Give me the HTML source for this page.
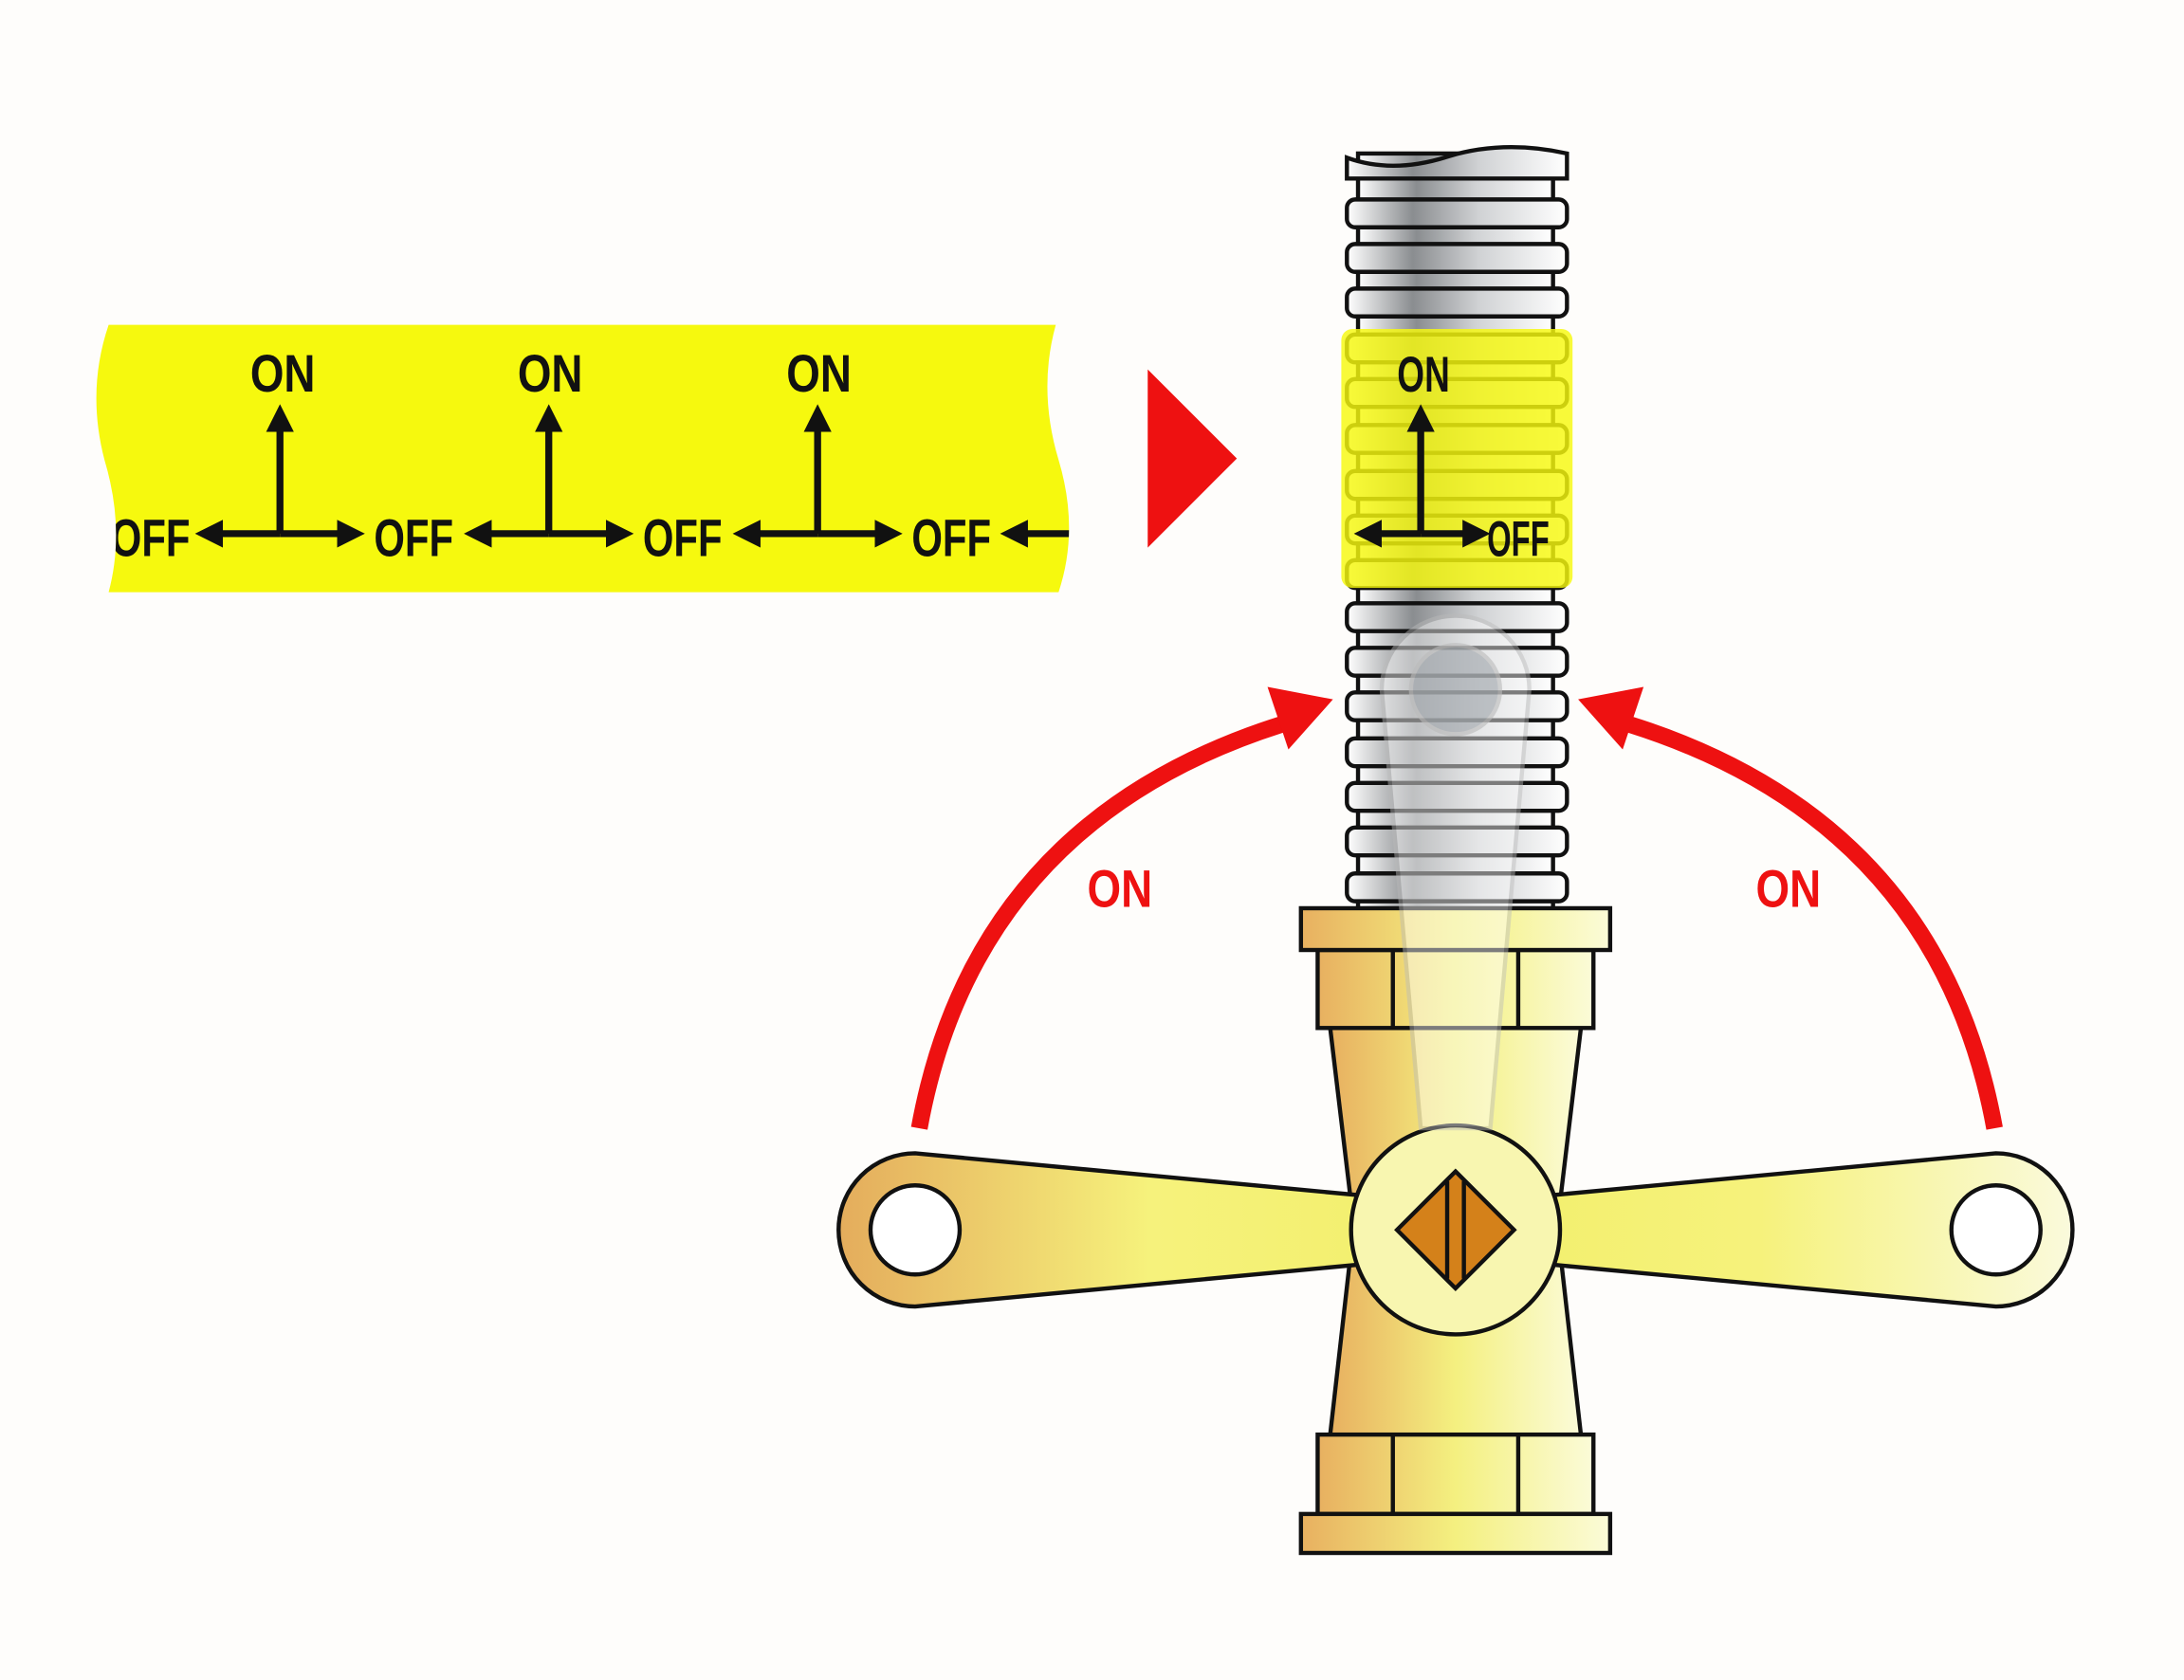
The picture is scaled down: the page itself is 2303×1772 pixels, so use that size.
<!DOCTYPE html>
<html><head><meta charset="utf-8"><style>
html,body{margin:0;padding:0;background:#fefdfb;}
svg{display:block;}
text{font-family:"Liberation Sans",sans-serif;font-weight:bold;}
</style></head><body>
<svg width="2303" height="1772" viewBox="0 0 1568 1206" xmlns="http://www.w3.org/2000/svg">
<defs>
<linearGradient id="g1" x1="0" x2="1"><stop offset="0" stop-color="#e8b060"/><stop offset="0.5" stop-color="#f4f080"/><stop offset="1" stop-color="#fbfbd8"/></linearGradient>
<linearGradient id="g2" x1="0" x2="1"><stop offset="0" stop-color="#fff"/><stop offset="0.3" stop-color="#8a8d90"/><stop offset="0.6" stop-color="#d0d2d4"/><stop offset="1" stop-color="#fff"/></linearGradient>
<linearGradient id="g3" x1="0" x2="1"><stop offset="0" stop-color="#e4ac5c"/><stop offset="0.6" stop-color="#f6f27c"/><stop offset="1" stop-color="#f3f070"/></linearGradient>
<linearGradient id="g4" x1="1" x2="0"><stop offset="0" stop-color="#fafadc"/><stop offset="0.6" stop-color="#f6f27c"/><stop offset="1" stop-color="#f3f070"/></linearGradient>
<marker id="ah" viewBox="0 0 10 10" refX="5" refY="5" markerWidth="4" markerHeight="4" orient="auto"><path d="M0,0L10,5L0,10z" fill="#111"/></marker>
<clipPath id="tc"><path d="M78,233 L758,233 Q745,280 760,330 Q775,380 760,425 L78,425 Q90,380 75,330 Q62,280 78,233Z"/></clipPath>
</defs>
<!-- tape -->
<path d="M78,233 L758,233 Q745,280 760,330 Q775,380 760,425 L78,425 Q90,380 75,330 Q62,280 78,233Z" fill="#f6f90e"/>
<g clip-path="url(#tc)">
<g fill="#111" font-size="38" text-anchor="middle">
<text transform="translate(203,281) scale(0.82,1)">ON</text>
<text transform="translate(395,281) scale(0.82,1)">ON</text>
<text transform="translate(588,281) scale(0.82,1)">ON</text>
<text transform="translate(108,399) scale(0.75,1)">OFF</text>
<text transform="translate(297,399) scale(0.75,1)">OFF</text>
<text transform="translate(490,399) scale(0.75,1)">OFF</text>
<text transform="translate(683,399) scale(0.75,1)">OFF</text>
</g>
<g stroke="#111" stroke-width="5" fill="none">
<path d="M201,383V300" marker-end="url(#ah)"/><path d="M201,383H150" marker-end="url(#ah)"/><path d="M201,383H252" marker-end="url(#ah)"/>
<path d="M394,383V300" marker-end="url(#ah)"/><path d="M394,383H343" marker-end="url(#ah)"/><path d="M394,383H445" marker-end="url(#ah)"/>
<path d="M587,383V300" marker-end="url(#ah)"/><path d="M587,383H536" marker-end="url(#ah)"/><path d="M587,383H638" marker-end="url(#ah)"/>
<path d="M770,383H728" marker-end="url(#ah)"/>
</g>
</g>
<polygon points="824,265 888,329 824,393" fill="#ee1111"/>
<!-- pipe -->
<rect x="975" y="110" width="140" height="545" fill="url(#g2)" stroke="#111" stroke-width="3"/>
<path d="M967,113 Q1000,125 1040,112 Q1080,100 1125,110 L1125,128 L967,128Z" fill="url(#g2)" stroke="#111" stroke-width="3"/>
<g fill="url(#g2)" stroke="#111" stroke-width="3">
<rect x="967" y="143" width="158" height="20" rx="6"/><rect x="967" y="175" width="158" height="20" rx="6"/>
<rect x="967" y="207" width="158" height="20" rx="6"/><rect x="967" y="240" width="158" height="20" rx="6"/>
<rect x="967" y="272" width="158" height="20" rx="6"/><rect x="967" y="305" width="158" height="20" rx="6"/>
<rect x="967" y="338" width="158" height="20" rx="6"/><rect x="967" y="370" width="158" height="20" rx="6"/>
<rect x="967" y="402" width="158" height="20" rx="6"/><rect x="967" y="433" width="158" height="20" rx="6"/>
<rect x="967" y="465" width="158" height="20" rx="6"/><rect x="967" y="497" width="158" height="20" rx="6"/>
<rect x="967" y="530" width="158" height="20" rx="6"/><rect x="967" y="562" width="158" height="20" rx="6"/>
<rect x="967" y="594" width="158" height="20" rx="6"/><rect x="967" y="627" width="158" height="20" rx="6"/>
</g>
<rect x="963" y="236" width="166" height="186" rx="8" fill="#f6f90e" opacity="0.82"/>
<g fill="#111" font-size="36" text-anchor="middle">
<text transform="translate(1022,281) scale(0.7,1)">ON</text>
<text transform="translate(1090,399) scale(0.62,1)">OFF</text>
</g>
<g stroke="#111" stroke-width="5" fill="none">
<path d="M1020,383V300" marker-end="url(#ah)"/><path d="M1020,383H982" marker-end="url(#ah)"/><path d="M1020,383H1060" marker-end="url(#ah)"/>
</g>
<!-- valve body -->
<path d="M955,738 L1135,738 L1118,880 L1135,1030 L955,1030 L972,880Z" fill="url(#g1)" stroke="#111" stroke-width="3"/>
<rect x="946" y="682" width="198" height="56" fill="url(#g1)" stroke="#111" stroke-width="3"/>
<path d="M1000,682V738M1090,682V738" stroke="#111" stroke-width="3"/>
<rect x="934" y="652" width="222" height="30" fill="url(#g1)" stroke="#111" stroke-width="3"/>
<rect x="946" y="1030" width="198" height="57" fill="url(#g1)" stroke="#111" stroke-width="3"/>
<path d="M1000,1030V1087M1090,1030V1087" stroke="#111" stroke-width="3"/>
<rect x="934" y="1087" width="222" height="28" fill="url(#g1)" stroke="#111" stroke-width="3"/>
<!-- handles -->
<path d="M657,828 L975,858 L975,908 L657,938 A55,55 0 0 1 657,828Z" fill="url(#g3)" stroke="#111" stroke-width="3"/>
<circle cx="657" cy="883" r="32" fill="#fff" stroke="#111" stroke-width="3"/>
<path d="M1433,828 L1115,858 L1115,908 L1433,938 A55,55 0 0 0 1433,828Z" fill="url(#g4)" stroke="#111" stroke-width="3"/>
<circle cx="1433" cy="883" r="32" fill="#fff" stroke="#111" stroke-width="3"/>
<circle cx="1045" cy="883" r="75" fill="#f8f6b0" stroke="#111" stroke-width="3"/>
<!-- ghost handle -->
<path d="M1020,810 L992,495 A53,53 0 0 1 1098,495 L1070,810Z" fill="#fff" opacity="0.45" stroke="#bbb" stroke-width="3"/>
<circle cx="1045" cy="495" r="32" fill="#9ea4aa" opacity="0.6" stroke="#bbb" stroke-width="3"/>
<!-- diamond -->
<polygon points="1045,841 1087,883 1045,925 1003,883" fill="#d4811a" stroke="#111" stroke-width="3"/>
<path d="M1039,848V918M1051,848V918" stroke="#111" stroke-width="3"/>
<!-- red arrows -->
<path d="M660,810 Q700,590 920,520" stroke="#ee1111" stroke-width="12" fill="none"/>
<polygon points="910,493 957,502 925,538" fill="#ee1111"/>
<path d="M1432,810 Q1392,590 1170,520" stroke="#ee1111" stroke-width="12" fill="none"/>
<polygon points="1180,493 1133,502 1165,538" fill="#ee1111"/>
<g fill="#ee1111" font-size="38" text-anchor="middle">
<text transform="translate(804,651) scale(0.82,1)">ON</text>
<text transform="translate(1284,651) scale(0.82,1)">ON</text>
</g>
</svg>
</body></html>
